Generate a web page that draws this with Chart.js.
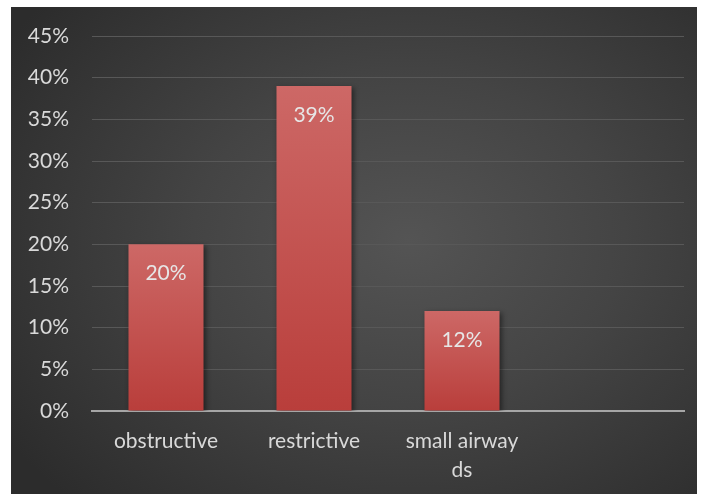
<!DOCTYPE html>
<html>
<head>
<meta charset="utf-8">
<script src="https://cdn.jsdelivr.net/npm/chart.js@4.4.1/dist/chart.umd.min.js"></script>
<style>
  html, body { margin: 0; padding: 0; background: #ffffff; }
  #panel {
    position: absolute; left: 11px; top: 7px; width: 686px; height: 487px;
    background: radial-gradient(ellipse 70% 75% at 58% 48%, #545454 0%, #444444 45%, #2c2c2c 100%);
  }
  canvas { display: block; }
</style>
</head>
<body>
<div id="panel"><canvas id="c" width="686" height="487"></canvas></div>
<script>
// Share of each pattern (percent)
const categories = ['obstructive', 'restrictive', ['small airway', 'ds'], ''];
const shares = [20, 39, 12, null];
const yTicks = [0, 5, 10, 15, 20, 25, 30, 35, 40, 45];

const FONT = 'Lato, "Open Sans", sans-serif';
const TEXT = '#d9d9d9';
const SIZE = 21;

function barFill(context) {
  const chart = context.chart;
  const area = chart.chartArea;
  if (!area) return '#c0504d';
  const y = chart.scales.y;
  const v = context.raw;
  if (v == null) return '#c0504d';
  const top = y.getPixelForValue(v);
  const g = chart.ctx.createLinearGradient(0, top, 0, y.getPixelForValue(0));
  g.addColorStop(0, '#cd6866');
  g.addColorStop(1, '#b93e3b');
  return g;
}

// Value text printed inside the top of each bar
const valueLabels = {
  id: 'valueLabels',
  afterDatasetsDraw(chart) {
    const ctx = chart.ctx;
    const meta = chart.getDatasetMeta(0);
    ctx.save();
    ctx.font = SIZE + 'px ' + FONT;
    ctx.fillStyle = '#e6e6e6';
    ctx.textAlign = 'center';
    ctx.textBaseline = 'middle';
    meta.data.forEach((bar, i) => {
      const v = shares[i];
      if (v == null) return;
      ctx.fillText(v + '%', bar.x, bar.y + 29);
    });
    ctx.restore();
  }
};

// Soft shadow under the bars
const barShadow = {
  id: 'barShadow',
  beforeDatasetDraw(chart) {
    const ctx = chart.ctx;
    ctx.save();
    ctx.shadowColor = 'rgba(0,0,0,0.45)';
    ctx.shadowBlur = 5;
    ctx.shadowOffsetX = 2;
    ctx.shadowOffsetY = 2;
  },
  afterDatasetDraw(chart) {
    chart.ctx.restore();
  }
};

new Chart(document.getElementById('c'), {
  type: 'bar',
  data: {
    labels: categories,
    datasets: [{
      data: shares,
      backgroundColor: barFill,
      borderWidth: 0,
      categoryPercentage: 0.507,
      barPercentage: 1
    }]
  },
  options: {
    responsive: false,
    animation: false,
    devicePixelRatio: 1,
    layout: { padding: { top: 29, right: 13, bottom: 0, left: 0 } },
    plugins: {
      legend: { display: false },
      tooltip: { enabled: false }
    },
    scales: {
      x: {
        grid: { display: false, drawTicks: false },
        border: { display: true, color: '#a6a6a6', width: 2 },
        ticks: {
          color: TEXT,
          font: { family: FONT, size: SIZE, lineHeight: 1.38 },
          padding: 16,
          maxRotation: 0,
          autoSkip: false
        },
        afterFit(scale) {
          scale.height = 83;
          scale.paddingLeft = 0;
          scale.paddingRight = 0;
        }
      },
      y: {
        min: 0,
        max: 45,
        afterBuildTicks(scale) { scale.ticks = yTicks.map(v => ({ value: v })); },
        grid: { color: '#585858', lineWidth: 1, drawTicks: false },
        border: { display: false },
        ticks: {
          color: TEXT,
          font: { family: FONT, size: SIZE },
          padding: 23,
          callback: v => v + '%'
        },
        afterFit(scale) {
          scale.width = 81;
          scale.paddingTop = 0;
          scale.paddingBottom = 0;
        }
      }
    }
  },
  plugins: [barShadow, valueLabels]
});
</script>
</body>
</html>
